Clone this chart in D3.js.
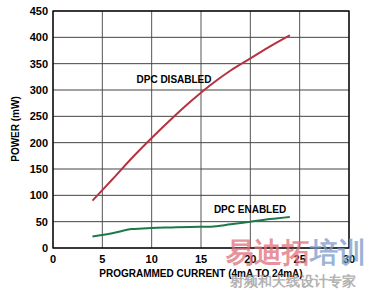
<!DOCTYPE html>
<html>
<head>
<meta charset="utf-8">
<script src="https://cdn.jsdelivr.net/npm/d3@7"></script>
<style>
  body { margin: 0; background: #fff; }
  text { font-family: Arial, "Liberation Sans", sans-serif; font-weight: bold; }
</style>
</head>
<body>
<div id="chart"></div>
<script>
const xTicks = [0, 5, 10, 15, 20, 25, 30];
const yTicks = [0, 50, 100, 150, 200, 250, 300, 350, 400, 450];

const currentDisabled = [4, 5, 6, 8, 10, 12, 14, 16, 18, 20, 22, 24];
const powerDisabled = [90, 110, 130, 171, 209, 245, 279, 310, 337, 360, 383, 404];

const currentEnabled = [4, 6, 8, 10, 12, 14, 16, 18, 20, 22, 24];
const powerEnabled = [22, 28, 36, 38, 39, 40, 40.5, 45, 50, 55, 59];

const width = 381, height = 290;
const margin = {top: 11, right: 32, bottom: 42, left: 53};

const svg = d3.select("#chart").append("svg")
  .attr("width", width)
  .attr("height", height);

const x = d3.scaleLinear().domain([0, 30]).range([margin.left, width - margin.right]);
const y = d3.scaleLinear().domain([0, 450]).range([height - margin.bottom, margin.top]);

// grid
svg.append("g")
  .selectAll("line")
  .data(xTicks)
  .enter().append("line")
  .attr("x1", d => x(d)).attr("x2", d => x(d))
  .attr("y1", y(0)).attr("y2", y(450))
  .attr("stroke", "#555").attr("stroke-width", 1);

svg.append("g")
  .selectAll("line")
  .data(yTicks)
  .enter().append("line")
  .attr("x1", x(0)).attr("x2", x(30))
  .attr("y1", d => y(d)).attr("y2", d => y(d))
  .attr("stroke", "#444").attr("stroke-width", 1);

svg.append("rect")
  .attr("x", x(0)).attr("y", y(450))
  .attr("width", x(30) - x(0)).attr("height", y(0) - y(450))
  .attr("fill", "none").attr("stroke", "#000").attr("stroke-width", 1.3);

// tick labels
svg.append("g")
  .selectAll("text")
  .data(yTicks)
  .enter().append("text")
  .attr("x", x(0) - 5)
  .attr("y", d => y(d) + 4)
  .attr("text-anchor", "end")
  .attr("font-size", 11)
  .text(d => d);

svg.append("g")
  .selectAll("text")
  .data(xTicks)
  .enter().append("text")
  .attr("x", d => x(d))
  .attr("y", y(0) + 15)
  .attr("text-anchor", "middle")
  .attr("font-size", 11)
  .text(d => d);

// axis titles
svg.append("text")
  .attr("x", 201).attr("y", 277)
  .attr("text-anchor", "middle")
  .attr("font-size", 10)
  .text("PROGRAMMED CURRENT (4mA TO 24mA)");

svg.append("text")
  .attr("transform", "translate(19,129) rotate(-90)")
  .attr("text-anchor", "middle")
  .attr("font-size", 10)
  .text("POWER (mW)");

// lines
const line = d3.line().curve(d3.curveMonotoneX);

svg.append("path")
  .attr("d", line(currentDisabled.map((c, i) => [x(c), y(powerDisabled[i])])))
  .attr("fill", "none")
  .attr("stroke", "#b5333f")
  .attr("stroke-width", 2);

svg.append("path")
  .attr("d", line(currentEnabled.map((c, i) => [x(c), y(powerEnabled[i])])))
  .attr("fill", "none")
  .attr("stroke", "#1d7a48")
  .attr("stroke-width", 2);

// series labels
svg.append("text")
  .attr("x", 174).attr("y", 83)
  .attr("text-anchor", "middle")
  .attr("font-size", 10)
  .text("DPC DISABLED");

svg.append("text")
  .attr("x", 250).attr("y", 213)
  .attr("text-anchor", "middle")
  .attr("font-size", 10)
  .text("DPC ENABLED");

// watermark
const wm = svg.append("g").attr("opacity", 0.75);
wm.append("text")
  .attr("x", 226).attr("y", 262)
  .attr("font-size", 28)
  .attr("font-family", "Noto Sans CJK SC")
  .attr("fill", "#e0707a")
  .text("易迪拓");
wm.append("text")
  .attr("x", 310).attr("y", 262)
  .attr("font-size", 28)
  .attr("font-family", "Noto Sans CJK SC")
  .attr("fill", "#7a9ac8")
  .text("培训");
wm.append("text")
  .attr("x", 230).attr("y", 286)
  .attr("font-size", 14)
  .attr("font-family", "Noto Sans CJK SC")
  .attr("fill", "#999")
  .text("射频和天线设计专家");
</script>
</body>
</html>
